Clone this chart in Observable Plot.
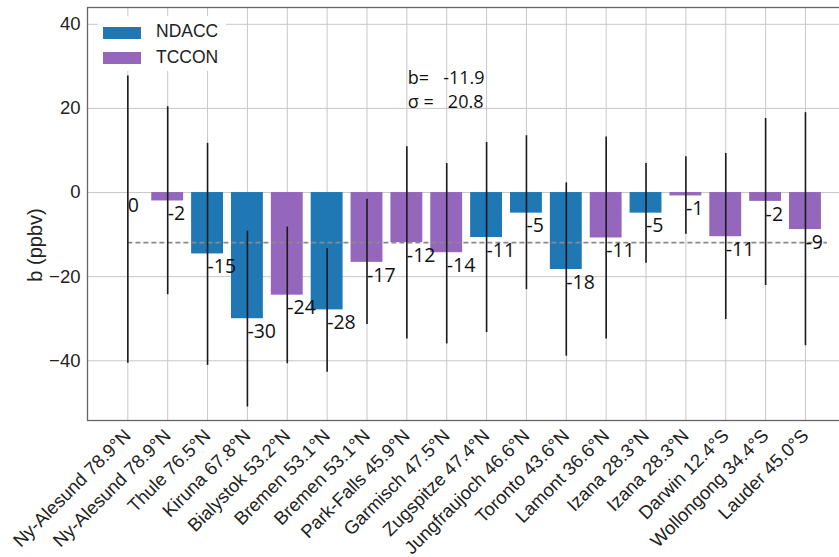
<!DOCTYPE html>
<html><head><meta charset="utf-8">
<script src="https://cdn.jsdelivr.net/npm/d3@7"></script>
<script src="https://cdn.jsdelivr.net/npm/@observablehq/plot@0.6"></script>
<style>
body{margin:0;background:#fff;}
#wrap{position:relative;width:839px;height:557px;overflow:hidden;font-family:"Liberation Sans",Arial,sans-serif;background:#fff;}
#legend{position:absolute;left:98px;top:16px;width:128px;height:55px;background:#fff;}
.sw{position:absolute;left:5px;width:38px;height:12px;}
.lt{position:absolute;left:58px;font-size:17.5px;color:#222;line-height:1;}
#ylabel{position:absolute;left:35px;top:245px;transform:translate(-50%,-50%) rotate(-90deg);font-size:20px;white-space:nowrap;color:#222;}
</style></head><body>
<div id="wrap"></div>
<script>
const stations = ["Ny-Alesund 78.9°N","Ny-Alesund 78.9°N","Thule 76.5°N","Kiruna 67.8°N","Bialystok 53.2°N","Bremen 53.1°N","Bremen 53.1°N","Park-Falls 45.9°N","Garmisch 47.5°N","Zugspitze 47.4°N","Jungfraujoch 46.6°N","Toronto 43.6°N","Lamont 36.6°N","Izana 28.3°N","Izana 28.3°N","Darwin 12.4°S","Wollongong 34.4°S","Lauder 45.0°S"];
const network = ["NDACC","TCCON","NDACC","NDACC","TCCON","NDACC","TCCON","TCCON","TCCON","NDACC","NDACC","NDACC","TCCON","NDACC","TCCON","TCCON","TCCON","TCCON"];
const bias = [0, -2.0, -14.6, -30.0, -24.4, -27.9, -16.6, -11.9, -14.3, -10.7, -4.9, -18.3, -10.8, -4.9, -0.8, -10.5, -2.1, -8.8];
const biasLabels = ["0","-2","-15","-30","-24","-28","-17","-12","-14","-11","-5","-18","-11","-5","-1","-11","-2","-9"];
const errLow = [-40.6, -24.3, -41.1, -51.0, -40.7, -42.7, -31.4, -34.8, -36.0, -33.3, -23.1, -38.9, -34.8, -16.8, -9.9, -30.2, -22.1, -36.4];
const errHigh = [27.7, 20.4, 11.7, -9.2, -8.2, -13.3, -1.6, 10.9, 6.9, 11.9, 13.5, 2.3, 13.2, 6.9, 8.5, 9.3, 17.6, 19.0];
const networks = ["NDACC","TCCON"];
const networkColors = ["#1f77b4","#9467bd"];
const yTicks = [-40,-20,0,20,40];
const yDomain = [-54.2, 44];
const meanBias = -11.9;
const annLines = ["b=\u00a0\u00a0\u00a0-11.9", "σ =\u00a0\u00a0\u00a020.8"];
const annY = [27.2, 21.4];

const idx = d3.range(stations.length);
const rows = idx.map(i => ({i, network: network[i], bias: bias[i], lo: errLow[i], hi: errHigh[i], label: biasLabels[i]}));
const ann = annLines.map((t, k) => ({text: t, y: annY[k]}));

const chart = Plot.plot({
  width: 839, height: 557,
  marginLeft: 87, marginRight: -2, marginTop: 7, marginBottom: 137,
  style: {fontFamily: "'Liberation Sans', Arial, sans-serif", fontSize: "18.5px", color: "#222", background: "#fff"},
  x: {type: "band", domain: idx, range: [107.4, 824.9], paddingInner: 0.2, paddingOuter: 0.1, round: false},
  y: {domain: yDomain},
  color: {domain: networks, range: networkColors},
  marks: [
    Plot.gridX(idx, {stroke: "#c8c8c8", strokeOpacity: 1, strokeWidth: 1}),
    Plot.gridY(yTicks, {stroke: "#c8c8c8", strokeOpacity: 1, strokeWidth: 1}),
    Plot.barY(rows, {x: "i", y: "bias", fill: "network"}),
    Plot.ruleY([meanBias], {x1: idx[0], x2: idx[idx.length - 1], insetLeft: 16, insetRight: -6, stroke: "#8a8a8a", strokeWidth: 1.6, strokeDasharray: "5,3"}),
    Plot.ruleX(rows, {x: "i", y1: "lo", y2: "hi", stroke: "#1a1a1a", strokeWidth: 1.6}),
    Plot.text(rows, {x: "i", y: "bias", text: "label", textAnchor: "start", dy: 13, dx: 0, fontSize: 19.5, fontFamily: "'Open Sans', sans-serif", fill: "#111"}),
    Plot.text(ann, {x: () => idx[7], y: "y", text: "text", textAnchor: "start", dx: 1, fontSize: 18, fontFamily: "'Open Sans', sans-serif", fill: "#111"}),
    Plot.axisY(yTicks, {tickSize: 0, tickPadding: 7, label: null}),
    Plot.axisX(idx, {tickSize: 0, tickPadding: 12, tickRotate: -45, tickFormat: i => stations[i], label: null}),
    Plot.frame({stroke: "#666", strokeWidth: 1.3})
  ]
});

const wrap = document.getElementById("wrap");
wrap.appendChild(chart);
const legend = document.createElement("div");
legend.id = "legend";
networks.forEach((n, k) => {
  const sw = document.createElement("div");
  sw.className = "sw";
  sw.style.top = (11 + 25 * k) + "px";
  sw.style.background = networkColors[k];
  legend.appendChild(sw);
  const t = document.createElement("div");
  t.className = "lt";
  t.style.top = (7 + 26 * k) + "px";
  t.textContent = n;
  legend.appendChild(t);
});
wrap.appendChild(legend);
const yl = document.createElement("div");
yl.id = "ylabel";
yl.textContent = "b (ppbv)";
wrap.appendChild(yl);
</script>
</body></html>
